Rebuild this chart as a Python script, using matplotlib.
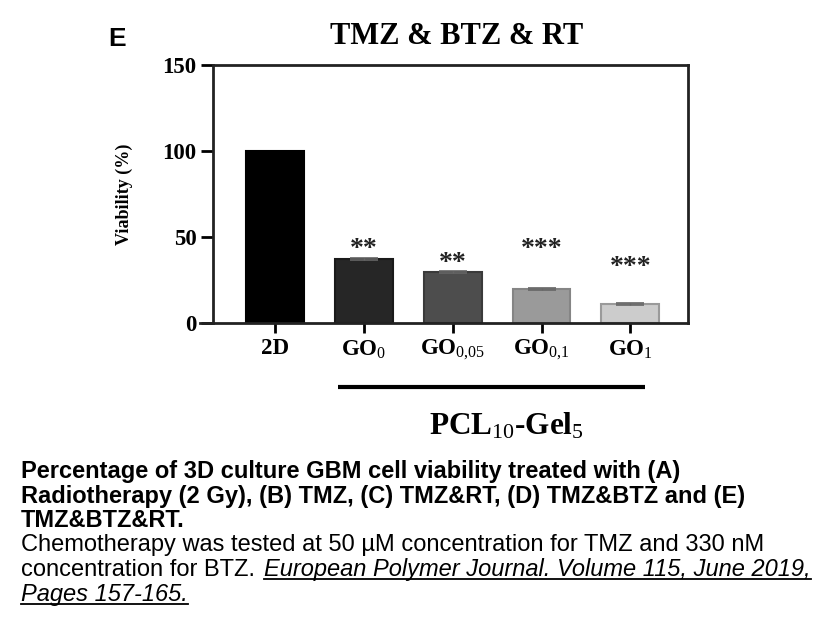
import matplotlib
matplotlib.use('Agg')
import matplotlib.pyplot as plt
from matplotlib.lines import Line2D

plt.rcParams['mathtext.fontset'] = 'custom'
plt.rcParams['mathtext.rm'] = 'Liberation Serif'
plt.rcParams['mathtext.it'] = 'Liberation Serif:italic'
plt.rcParams['mathtext.bf'] = 'Liberation Serif:bold'

# data
groups = ['2D', 'GO$_{0}$', 'GO$_{0{,}05}$', 'GO$_{0{,}1}$', 'GO$_{1}$']
viability = [100, 37.2, 29.5, 19.6, 11.0]
errors = [0.0, 0.8, 0.7, 0.5, 0.4]
stars = ['', '**', '**', '***', '***']
star_y = [0, 43.0, 34.5, 43.0, 32.0]
bar_colors = ['#000000', '#262626', '#4d4d4d', '#9a9a9a', '#cccccc']
edge_colors = ['#000000', '#1a1a1a', '#3a3a3a', '#858585', '#9a9a9a']
yticks = [0, 50, 100, 150]

W, H = 831, 624
fig = plt.figure(figsize=(W / 100, H / 100), dpi=100)

def fx(px):
    return px / W

def fy(py):
    return 1 - py / H

ax = fig.add_axes([fx(213), fy(323), fx(688) - fx(213), fy(65) - fy(323)])

x = list(range(len(groups)))
ax.bar(x, viability, width=0.65, color=bar_colors, edgecolor=edge_colors, linewidth=1.5, zorder=2)
ax.errorbar(x[1:], viability[1:], yerr=errors[1:], fmt='none', ecolor='#666666',
            elinewidth=1, capsize=10, capthick=1.2, zorder=3)
for xi, s, sy in zip(x, stars, star_y):
    if s:
        ax.text(xi, sy, s, ha='center', va='center', fontsize=20,
                family='Liberation Serif', fontweight='bold', color='#222222')

ax.set_xlim(-0.70, 4.65)
ax.set_ylim(0, 150)
ax.set_yticks(yticks)
ax.set_yticklabels([str(v) for v in yticks], family='Liberation Serif', fontweight='bold', fontsize=16.5)
ax.set_xticks(x)
ax.set_xticklabels(groups, family='Liberation Serif', fontweight='bold', fontsize=16.5)
ax.tick_params(axis='y', length=9, width=2, pad=3)
ax.tick_params(axis='x', length=7, width=2, pad=4)
for sp in ax.spines.values():
    sp.set_linewidth(2)
    sp.set_color('#222222')
ax.spines['bottom'].set_bounds(-0.85, 4.65)

ax.set_ylabel('Viability (%)', family='Liberation Serif', fontweight='bold', fontsize=13)
ax.yaxis.set_label_coords(-0.168, 0.5)

# group bracket
ax.plot([0.71, 4.17], [-37, -37], color='black', lw=3, clip_on=False, solid_capstyle='butt')
ax.text(2.60, -60, 'PCL$_{10}$-Gel$_{5}$', ha='center', va='center', fontsize=22.5,
        family='Liberation Serif', fontweight='bold')

fig.text(fx(457), fy(36), 'TMZ & BTZ & RT', ha='center', va='center', fontsize=22,
         family='Liberation Serif', fontweight='bold')
fig.text(fx(117), fy(39), 'E', ha='center', va='center', fontsize=19,
         family='Liberation Sans', fontweight='bold')

# caption
cap = dict(family='Liberation Sans', fontsize=17, ha='left', va='baseline')
fig.text(fx(21), fy(478), 'Percentage of 3D culture GBM cell viability treated with (A)', fontweight='bold', **cap)
fig.text(fx(21), fy(502.5), 'Radiotherapy (2 Gy), (B) TMZ, (C) TMZ&RT, (D) TMZ&BTZ and (E)', fontweight='bold', **cap)
fig.text(fx(21), fy(527), 'TMZ&BTZ&RT.', fontweight='bold', **cap)
fig.text(fx(21), fy(551.5), 'Chemotherapy was tested at 50 \u00b5M concentration for TMZ and 330 nM', **cap)
t5 = fig.text(fx(21), fy(576), 'concentration for BTZ.', **cap)

fig.canvas.draw()
r = fig.canvas.get_renderer()
bb = t5.get_window_extent(r)
sp_w = 9
links = []
links.append(fig.text(fx(bb.x1 + sp_w), fy(576), 'European Polymer Journal. Volume 115, June 2019,', style='italic', **cap))
links.append(fig.text(fx(21), fy(600.5), 'Pages 157-165.', style='italic', **cap))
fig.canvas.draw()
for t, yb in zip(links, [576, 600.5]):
    b = t.get_window_extent(r)
    fig.add_artist(Line2D([fx(b.x0), fx(b.x1)], [fy(yb + 3), fy(yb + 3)], color='black', lw=1.3,
                          transform=fig.transFigure))

fig.savefig('out.png', dpi=100)
